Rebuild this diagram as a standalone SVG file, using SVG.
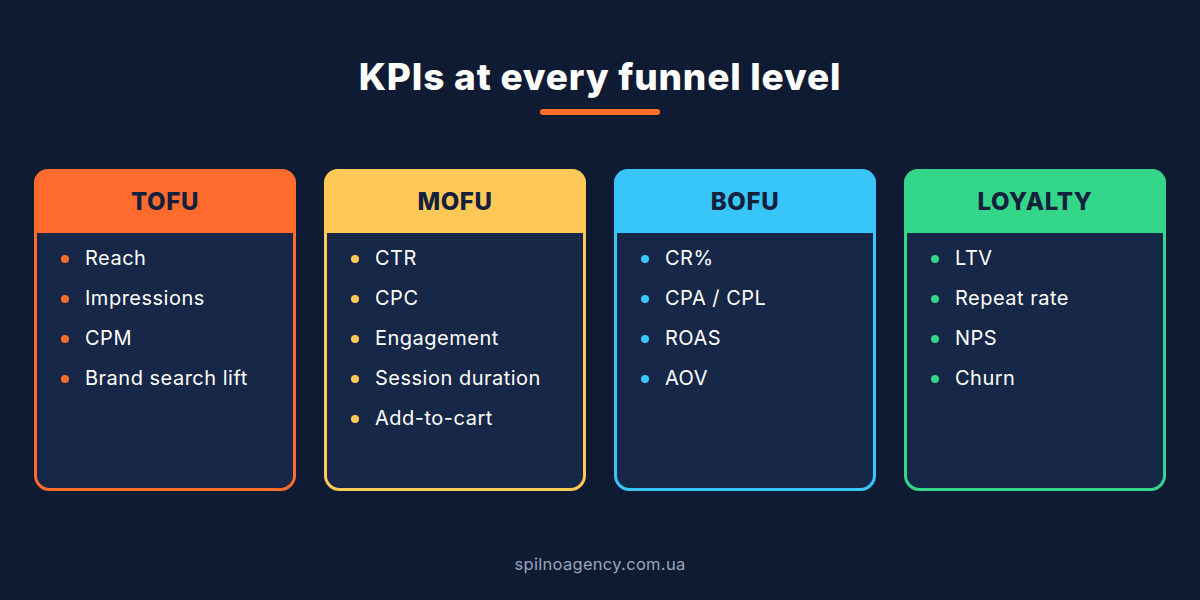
<svg xmlns="http://www.w3.org/2000/svg" width="1200" height="600" viewBox="0 0 1200 600">
<style>
.t{font-family:Inter,"Open Sans",sans-serif;fill:#fff}
.h{font-family:Inter,"Open Sans",sans-serif;font-weight:800;font-size:24px;letter-spacing:0.6px;fill:#14213d;text-anchor:middle}
.i{font-family:Inter,"Open Sans",sans-serif;font-size:20px;letter-spacing:0.5px;fill:#fff}
.body{fill:#172747}
</style>
<rect width="1200" height="600" fill="#0f1b33"/>
<text class="t" x="600" y="90" font-size="37" font-weight="800" letter-spacing="0.8" text-anchor="middle">KPIs at every funnel level</text>
<rect x="540" y="109" width="120" height="6" rx="3" fill="#ff6b2c"/>
<g id="tofu">
<rect x="35.5" y="170.5" width="259" height="319" rx="14" class="body" stroke="#ff6b2c" stroke-width="3"/>
<path d="M34 233 V183 A14 14 0 0 1 48 169 H282 A14 14 0 0 1 296 183 V233 Z" fill="#ff6b2c"/>
<text class="h" x="165" y="210">TOFU</text>
<g fill="#ff6b2c"><circle cx="65" cy="259" r="4"/><circle cx="65" cy="299" r="4"/><circle cx="65" cy="339" r="4"/><circle cx="65" cy="379" r="4"/></g>
<text class="i" x="85" y="265">Reach</text><text class="i" x="85" y="305">Impressions</text><text class="i" x="85" y="345">CPM</text><text class="i" x="85" y="385">Brand search lift</text>
</g>
<g id="mofu">
<rect x="325.5" y="170.5" width="259" height="319" rx="14" class="body" stroke="#ffc857" stroke-width="3"/>
<path d="M324 233 V183 A14 14 0 0 1 338 169 H572 A14 14 0 0 1 586 183 V233 Z" fill="#ffc857"/>
<text class="h" x="455" y="210">MOFU</text>
<g fill="#ffc857"><circle cx="355" cy="259" r="4"/><circle cx="355" cy="299" r="4"/><circle cx="355" cy="339" r="4"/><circle cx="355" cy="379" r="4"/><circle cx="355" cy="419" r="4"/></g>
<text class="i" x="375" y="265">CTR</text><text class="i" x="375" y="305">CPC</text><text class="i" x="375" y="345">Engagement</text><text class="i" x="375" y="385">Session duration</text><text class="i" x="375" y="425">Add-to-cart</text>
</g>
<g id="bofu">
<rect x="615.5" y="170.5" width="259" height="319" rx="14" class="body" stroke="#38c6fa" stroke-width="3"/>
<path d="M614 233 V183 A14 14 0 0 1 628 169 H862 A14 14 0 0 1 876 183 V233 Z" fill="#38c6fa"/>
<text class="h" x="745" y="210">BOFU</text>
<g fill="#38c6fa"><circle cx="645" cy="259" r="4"/><circle cx="645" cy="299" r="4"/><circle cx="645" cy="339" r="4"/><circle cx="645" cy="379" r="4"/></g>
<text class="i" x="665" y="265">CR%</text><text class="i" x="665" y="305">CPA / CPL</text><text class="i" x="665" y="345">ROAS</text><text class="i" x="665" y="385">AOV</text>
</g>
<g id="loyalty">
<rect x="905.5" y="170.5" width="259" height="319" rx="14" class="body" stroke="#34d68a" stroke-width="3"/>
<path d="M904 233 V183 A14 14 0 0 1 918 169 H1152 A14 14 0 0 1 1166 183 V233 Z" fill="#34d68a"/>
<text class="h" x="1035" y="210">LOYALTY</text>
<g fill="#34d68a"><circle cx="935" cy="259" r="4"/><circle cx="935" cy="299" r="4"/><circle cx="935" cy="339" r="4"/><circle cx="935" cy="379" r="4"/></g>
<text class="i" x="955" y="265">LTV</text><text class="i" x="955" y="305">Repeat rate</text><text class="i" x="955" y="345">NPS</text><text class="i" x="955" y="385">Churn</text>
</g>
<g id="connectors"/>
<text x="600" y="570" font-family="Inter,'Open Sans',sans-serif" font-size="16.5" letter-spacing="0.3" fill="#9aa5bd" text-anchor="middle">spilnoagency.com.ua</text>
</svg>
